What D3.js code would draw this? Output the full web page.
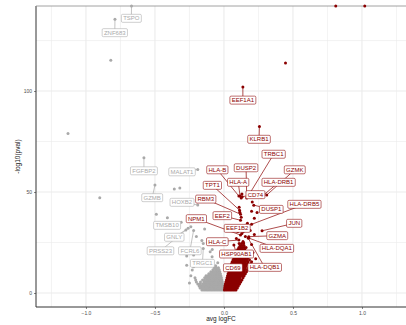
<!DOCTYPE html>
<html>
<head>
<meta charset="utf-8">
<script src="https://cdn.jsdelivr.net/npm/d3@7"></script>
<style>
  body { margin: 0; background: #fff; }
  text { font-family: 'Liberation Sans', Arial, sans-serif; }
</style>
</head>
<body>
<svg id="canvas" width="406" height="325"></svg>
<script>
let xTicks = [-1, -0.5, 0, 0.5, 1]
let xMinor = [-1.25, -0.75, -0.25, 0.25, 0.75, 1.25]
let yTicks = [0, 50, 100]
let yMinor = [25, 75, 125]

// labelled genes, up (red): logFC, -log10(pval), where the label sits
let upGenes = ['EEF1A1', 'KLRB1', 'TRBC1', 'DUSP2', 'HLA-B', 'GZMK', 'HLA-A', 'HLA-DRB1', 'CD74', 'TPT1', 'RBM3', 'DUSP1',
  'HLA-DRB5', 'EEF2', 'EEF1B2', 'NPM1', 'JUN', 'GZMA', 'HLA-C', 'HLA-DQA1', 'HSP90AB1', 'CD69', 'HLA-DQB1']
let upLogFC = [0.137, 0.257, 0.18, 0.165, 0.108, 0.31, 0.117, 0.27, 0.132, 0.113, 0.12, 0.216,
  0.2, 0.12, 0.14, 0.12, 0.276, 0.18, 0.108, 0.18, 0.072, 0.06, 0.175]
let upLogP = [102, 82.5, 48.5, 47, 48, 48.5, 48, 47.5, 47.7, 41, 39, 43.5,
  34, 36, 30.5, 28.7, 30.8, 27.9, 26.2, 27.2, 23.8, 15, 27.2]
let upLabelX = [0.137, 0.254, 0.36, 0.16, -0.048, 0.513, 0.103, 0.396, 0.228, -0.084, -0.132, 0.343,
  0.583, -0.012, 0.096, -0.2, 0.509, 0.386, -0.048, 0.383, 0.091, 0.065, 0.295]
let upLabelY = [95.5, 76.1, 68.7, 62, 61, 61, 54.8, 54.8, 48.7, 53.3, 46.5, 41.4,
  43.9, 38.3, 32, 36.8, 34.5, 28.4, 25.4, 22.1, 19.3, 12.5, 12.7]

// labelled genes, down (grey)
let downGenes = ['TSPO', 'ZNF683', 'FGFBP2', 'MALAT1', 'GZMB', 'HOXB2', 'TMSB10', 'GNLY', 'PRSS23', 'FCRL6', 'TRGC1']
let downLogFC = [-0.67, -0.79, -0.58, -0.19, -0.5, -0.19, -0.31, -0.26, -0.276, -0.22, -0.15]
let downLogP = [Infinity, 135.5, 67, 61.2, 53.5, 43.6, 35, 32, 31.2, 31, 22]
let downLabelX = [-0.671, -0.791, -0.58, -0.304, -0.52, -0.304, -0.412, -0.36, -0.46, -0.247, -0.156]
let downLabelY = [136, 128.9, 60.5, 60, 47.2, 44.9, 33.5, 27.6, 20.9, 20.9, 14.7]

// other genes, not labelled
let upOther = [[0.81, Infinity], [1.02, Infinity], [0.446, 113.9], [0.13, 49], [0.125, 47], [0.11, 42.5], [0.115, 40],
  [0.125, 37.5], [0.2, 40.5], [0.24, 39.8], [0.22, 37], [0.205, 45], [0.15, 33], [0.17, 34.5], [0.19, 31], [0.1, 30.5],
  [0.13, 29.5], [0.155, 28], [0.22, 29], [0.09, 27], [0.11, 24.5], [0.14, 25], [0.16, 22.5], [0.2, 24], [0.21, 20],
  [0.23, 17], [0.215, 13.5]]
let downOther = [[-0.82, 115.2], [-1.13, 79], [-0.9, 47.2], [-0.36, 51.5], [-0.32, 52], [-0.49, 39], [-0.41, 37.3],
  [-0.24, 32.8], [-0.14, 31.7], [-0.1, 20.4], [-0.086, 18], [-0.124, 15.8], [-0.17, 13.5], [-0.22, 13], [-0.27, 18.3],
  [-0.22, 18.8], [-0.27, 13.7], [-0.23, 11.4], [-0.15, 24.5], [-0.16, 26], [-0.065, 25], [-0.085, 21.5], [-0.2, 28],
  [-0.045, 15], [-0.06, 13.5], [-0.24, 8.5], [-0.25, 5]]

// the dense bulk near zero, row by row: [-log10(pval), logFC values]
let upRows = [
  [1.5, [0.003, 0.015, 0.027, 0.039, 0.051, 0.063, 0.075, 0.087]],
  [2.5, [0.005, 0.017, 0.029, 0.041, 0.053, 0.065, 0.077, 0.089, 0.097]],
  [3.5, [0.007, 0.019, 0.031, 0.043, 0.055, 0.067, 0.079, 0.091, 0.104]],
  [4.5, [0.01, 0.022, 0.034, 0.046, 0.058, 0.07, 0.082, 0.094, 0.106, 0.113]],
  [5.5, [0.014, 0.026, 0.038, 0.05, 0.062, 0.074, 0.086, 0.098, 0.11, 0.121]],
  [6.5, [0.018, 0.03, 0.042, 0.054, 0.066, 0.078, 0.09, 0.102, 0.114, 0.13]],
  [7.5, [0.022, 0.034, 0.046, 0.058, 0.07, 0.082, 0.094, 0.106, 0.118, 0.138]],
  [8.5, [0.026, 0.038, 0.05, 0.062, 0.074, 0.086, 0.098, 0.11, 0.122, 0.134, 0.146]],
  [9.5, [0.03, 0.042, 0.054, 0.066, 0.078, 0.09, 0.102, 0.114, 0.126, 0.14, 0.155]],
  [10.5, [0.035, 0.047, 0.059, 0.071, 0.083, 0.095, 0.107, 0.119, 0.131, 0.145, 0.163]],
  [11.5, [0.04, 0.052, 0.064, 0.076, 0.088, 0.1, 0.112, 0.124, 0.136, 0.15, 0.17]],
  [12.5, [0.045, 0.057, 0.069, 0.081, 0.093, 0.105, 0.117, 0.129, 0.141, 0.156, 0.178]],
  [13.5, [0.05, 0.062, 0.074, 0.086, 0.098, 0.11, 0.122, 0.134, 0.146, 0.162, 0.186]],
  [14.5, [0.055, 0.067, 0.079, 0.091, 0.103, 0.115, 0.127, 0.139, 0.151, 0.168, 0.195]],
  [15.5, [0.06, 0.072, 0.084, 0.096, 0.108, 0.12, 0.132, 0.144, 0.157, 0.175, 0.2]],
  [16.5, [0.066, 0.078, 0.09, 0.102, 0.114, 0.126, 0.138, 0.15, 0.165, 0.185]],
  [17.5, [0.072, 0.084, 0.096, 0.108, 0.12, 0.132, 0.144, 0.156, 0.172]],
  [18.5, [0.078, 0.09, 0.102, 0.114, 0.126, 0.138, 0.15, 0.165]],
  [19.5, [0.085, 0.097, 0.109, 0.121, 0.133, 0.145, 0.16]],
  [20.5, [0.092, 0.104, 0.116, 0.128, 0.14, 0.155]],
  [21.5, [0.1, 0.112, 0.124, 0.136, 0.15]],
  [22.5, [0.108, 0.12, 0.132, 0.147]],
  [23.5, [0.117, 0.13, 0.145]],
  [24.5, [0.127, 0.142]],
  [25.5, [0.138]]
]
let downRows = [
  [1.5, [-0.003, -0.015, -0.027, -0.039, -0.051, -0.063, -0.075, -0.087, -0.099, -0.111, -0.123, -0.135, -0.147, -0.16]],
  [2.5, [-0.005, -0.017, -0.029, -0.041, -0.053, -0.065, -0.077, -0.089, -0.101, -0.113, -0.125, -0.137, -0.149, -0.161, -0.173]],
  [3.5, [-0.007, -0.019, -0.031, -0.043, -0.055, -0.067, -0.079, -0.091, -0.103, -0.115, -0.127, -0.139, -0.151, -0.165, -0.18]],
  [4.5, [-0.01, -0.022, -0.034, -0.046, -0.058, -0.07, -0.082, -0.094, -0.106, -0.118, -0.13, -0.142, -0.155, -0.172, -0.19]],
  [5.5, [-0.012, -0.024, -0.036, -0.048, -0.06, -0.072, -0.084, -0.096, -0.108, -0.12, -0.132, -0.145, -0.17, -0.2]],
  [6.5, [-0.015, -0.027, -0.039, -0.051, -0.063, -0.075, -0.087, -0.099, -0.111, -0.123, -0.14, -0.155, -0.205]],
  [7.5, [-0.018, -0.03, -0.042, -0.054, -0.066, -0.078, -0.09, -0.102, -0.114, -0.128, -0.14, -0.21]],
  [8.5, [-0.022, -0.034, -0.046, -0.058, -0.07, -0.082, -0.094, -0.106, -0.118, -0.13]],
  [9.5, [-0.026, -0.038, -0.05, -0.062, -0.074, -0.086, -0.098, -0.11]],
  [10.5, [-0.03, -0.042, -0.054, -0.066, -0.08, -0.095]],
  [11.5, [-0.035, -0.048, -0.062, -0.08]],
  [12.5, [-0.04, -0.055, -0.07]]
]

let upColor = '#8b0000'
let downColor = '#a9a9a9'

let canvas = d3.select('#canvas')

let panel = { left: 36, right: 406, top: 6, bottom: 307 }

let xScale = d3.scaleLinear()
               .domain([-1.362, 1.319])
               .range([panel.left, panel.right])
let yScale = d3.scaleLinear()
               .domain([-6.93, 142.1])
               .range([panel.bottom, panel.top])

// pval of 0 gives Inf, drawn on the panel edge
let yPos = (v) => {
  return v === Infinity ? panel.top : yScale(v)
}

let drawGrid = () => {
  let grid = canvas.append('g')
  grid.selectAll('.xminor')
      .data(xMinor)
      .enter()
      .append('line')
      .attr('x1', (d) => xScale(d))
      .attr('x2', (d) => xScale(d))
      .attr('y1', panel.top)
      .attr('y2', panel.bottom)
      .attr('stroke', '#ebebeb')
      .attr('stroke-width', 0.6)
  grid.selectAll('.yminor')
      .data(yMinor)
      .enter()
      .append('line')
      .attr('x1', panel.left)
      .attr('x2', panel.right)
      .attr('y1', (d) => yScale(d))
      .attr('y2', (d) => yScale(d))
      .attr('stroke', '#ebebeb')
      .attr('stroke-width', 0.6)
  grid.selectAll('.xmajor')
      .data(xTicks)
      .enter()
      .append('line')
      .attr('x1', (d) => xScale(d))
      .attr('x2', (d) => xScale(d))
      .attr('y1', panel.top)
      .attr('y2', panel.bottom)
      .attr('stroke', '#ebebeb')
      .attr('stroke-width', 1.1)
  grid.selectAll('.ymajor')
      .data(yTicks)
      .enter()
      .append('line')
      .attr('x1', panel.left)
      .attr('x2', panel.right)
      .attr('y1', (d) => yScale(d))
      .attr('y2', (d) => yScale(d))
      .attr('stroke', '#ebebeb')
      .attr('stroke-width', 1.1)
}

let drawAxes = () => {
  let xAxis = d3.axisBottom(xScale)
                .tickValues(xTicks)
                .tickFormat(d3.format('.1f'))
                .tickSize(2)
                .tickPadding(2)
  let yAxis = d3.axisLeft(yScale)
                .tickValues(yTicks)
                .tickFormat(d3.format('d'))
                .tickSize(2)
                .tickPadding(2)

  let gx = canvas.append('g')
                 .attr('transform', 'translate(0,' + panel.bottom + ')')
                 .call(xAxis)
  let gy = canvas.append('g')
                 .attr('transform', 'translate(' + panel.left + ',0)')
                 .call(yAxis)

  for (let g of [gx, gy]) {
    g.select('.domain').attr('stroke', '#333').attr('stroke-width', 1)
    g.selectAll('.tick line').attr('stroke', '#333').attr('stroke-width', 0.6)
    g.selectAll('.tick text')
     .attr('fill', '#4d4d4d')
     .style('font-size', '5px')
     .style('font-family', "'Liberation Sans', Arial, sans-serif")
  }
  gx.select('.domain').attr('d', 'M' + panel.left + ',0H' + panel.right)
  gy.select('.domain').attr('d', 'M0,' + panel.top + 'V' + panel.bottom)

  // top edge of the panel
  canvas.append('line')
        .attr('x1', panel.left)
        .attr('x2', panel.right)
        .attr('y1', panel.top)
        .attr('y2', panel.top)
        .attr('stroke', '#8c8c8c')
        .attr('stroke-width', 0.8)

  canvas.append('text')
        .text('avg logFC')
        .attr('x', (panel.left + panel.right) / 2)
        .attr('y', 321)
        .attr('text-anchor', 'middle')
        .style('font-size', '6.5px')
        .attr('fill', '#222')

  canvas.append('text')
        .text('-log10(pval)')
        .attr('transform', 'translate(20,' + ((panel.top + panel.bottom) / 2) + ') rotate(-90)')
        .attr('text-anchor', 'middle')
        .style('font-size', '6.5px')
        .attr('fill', '#222')
}

let drawPoints = () => {
  let downPoints = []
  downRows.forEach((row) => {
    row[1].forEach((fc) => downPoints.push([fc, row[0]]))
  })
  downOther.forEach((p) => downPoints.push(p))
  downGenes.forEach((g, i) => downPoints.push([downLogFC[i], downLogP[i]]))

  let upPoints = []
  upRows.forEach((row) => {
    row[1].forEach((fc) => upPoints.push([fc, row[0]]))
  })
  upOther.forEach((p) => upPoints.push(p))
  upGenes.forEach((g, i) => upPoints.push([upLogFC[i], upLogP[i]]))

  canvas.append('g')
        .selectAll('circle')
        .data(downPoints)
        .enter()
        .append('circle')
        .attr('cx', (d) => xScale(d[0]))
        .attr('cy', (d) => yPos(d[1]))
        .attr('r', 1.5)
        .attr('fill', downColor)

  canvas.append('g')
        .selectAll('circle')
        .data(upPoints)
        .enter()
        .append('circle')
        .attr('cx', (d) => xScale(d[0]))
        .attr('cy', (d) => yPos(d[1]))
        .attr('r', 1.5)
        .attr('fill', upColor)
}

let drawLabels = (genes, fc, logp, lx, ly, color) => {
  let rows = genes.map((g, i) => {
    return { name: g, x: fc[i], y: logp[i], lx: lx[i], ly: ly[i] }
  })

  canvas.append('g')
        .selectAll('line')
        .data(rows)
        .enter()
        .append('line')
        .attr('x1', (d) => xScale(d.x))
        .attr('y1', (d) => yPos(d.y))
        .attr('x2', (d) => xScale(d.lx))
        .attr('y2', (d) => yScale(d.ly))
        .attr('stroke', color)
        .attr('stroke-width', 0.7)

  let block = canvas.append('g')
                    .selectAll('g')
                    .data(rows)
                    .enter()
                    .append('g')
                    .attr('transform', (d) => 'translate(' + xScale(d.lx) + ',' + yScale(d.ly) + ')')

  let rects = block.append('rect')
  let texts = block.append('text')
                   .text((d) => d.name)
                   .attr('text-anchor', 'middle')
                   .attr('y', 2.1)
                   .style('font-size', '6px')
                   .attr('fill', color)

  texts.each(function (d) {
    d.w = this.getComputedTextLength()
  })

  rects.attr('x', (d) => -d.w / 2 - 1.8)
       .attr('y', -4)
       .attr('width', (d) => d.w + 3.6)
       .attr('height', 8)
       .attr('rx', 1.2)
       .attr('fill', '#fff')
       .attr('stroke', color)
       .attr('stroke-opacity', 0.8)
       .attr('stroke-width', 0.7)
}

drawGrid()
drawAxes()
drawPoints()
drawLabels(downGenes, downLogFC, downLogP, downLabelX, downLabelY, downColor)
drawLabels(upGenes, upLogFC, upLogP, upLabelX, upLabelY, upColor)
</script>
</body>
</html>
